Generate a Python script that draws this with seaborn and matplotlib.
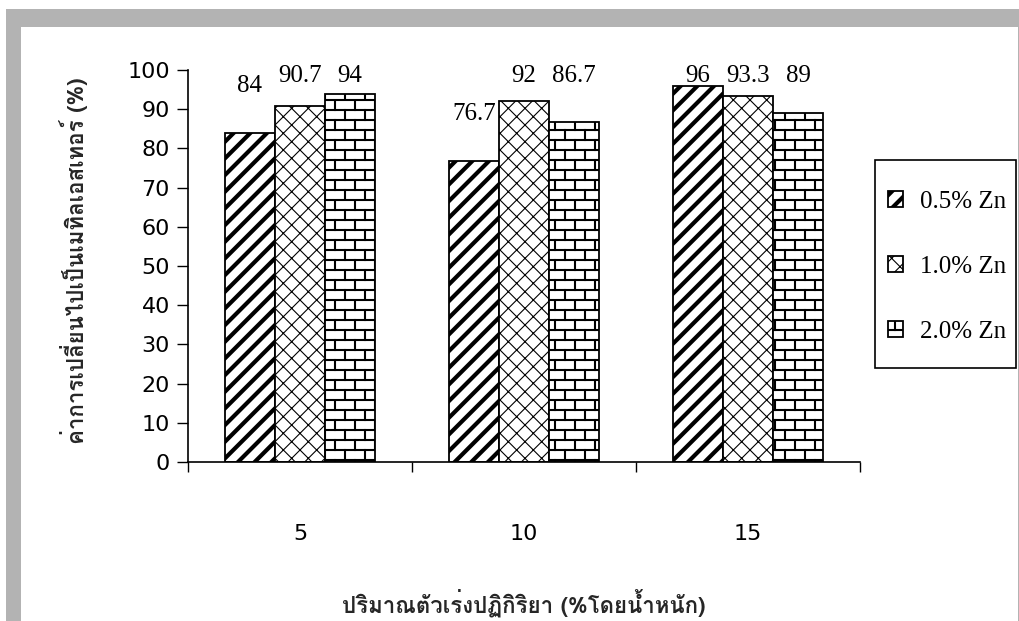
import numpy as np
import pandas as pd
import matplotlib
matplotlib.use("Agg")
import matplotlib.pyplot as plt
import matplotlib.hatch as mhatch
from matplotlib.path import Path
from matplotlib.patches import Rectangle
from matplotlib import font_manager, ft2font
import seaborn as sns

# ---- data -------------------------------------------------------------
catalyst_loading = ["5", "10", "15"]
zinc_levels = ["0.5% Zn", "1.0% Zn", "2.0% Zn"]
conv_zn_05 = [84, 76.7, 96]
conv_zn_10 = [90.7, 92, 93.3]
conv_zn_20 = [94, 86.7, 89]
y_ticks = [0, 10, 20, 30, 40, 50, 60, 70, 80, 90, 100]

x_title = "ปริมาณตัวเร่งปฏิกิริยา (%โดยน้ำหนัก)"
y_title = "ค่าการเปลี่ยนไปเป็นเมทิลเอสเทอร์ (%)"


# ---- a brick hatch (replaces the '*' star pattern) ----------------------
class BrickHatch(mhatch.HatchPatternBase):
    def __init__(self, hatch, density):
        n = hatch.count("*")
        self.rows = 10 * n
        self.cols = 5 * n
        self.num_lines = self.rows + 1
        self.num_vertices = 2 * (self.rows + 1) + 2 * self.rows * self.cols

    def set_vertices_and_codes(self, vertices, codes):
        if self.rows == 0:
            return
        h = 1.0 / self.rows
        w = 1.0 / self.cols
        segs = []
        # mortar courses, including both tile edges so they join seamlessly
        for i in range(self.rows + 1):
            y = i * h
            segs.append(((0.0, y), (1.0, y)))
        # staggered joints inside each course
        for i in range(self.rows):
            y = i * h
            off = 0.25 * w + (0.5 * w if i % 2 else 0.0)
            for j in range(self.cols):
                x = j * w + off
                segs.append(((x, y), (x, y + h)))
        vertices[:] = np.asarray(segs, dtype=float).reshape(-1, 2)
        codes[0::2] = Path.MOVETO
        codes[1::2] = Path.LINETO


mhatch._hatch_types = [t for t in mhatch._hatch_types if t is not mhatch.Stars] + [BrickHatch]


def find_thai_family():
    for f in font_manager.fontManager.ttflist:
        try:
            cmap = ft2font.FT2Font(f.fname).get_charmap()
        except Exception:
            continue
        if 0x0E01 in cmap and 0x0E40 in cmap and 0x0E48 in cmap:
            return f.name
    return "DejaVu Sans"


thai_family = find_thai_family()

# ---- figure -----------------------------------------------------------
sns.set_style("white")
plt.rcParams["font.family"] = ["DejaVu Sans"]

fig = plt.figure(figsize=(10.2, 6.21), dpi=100)
ax = fig.add_axes([188 / 1020, 1 - 462 / 621, 672 / 1020, 392 / 621])

df = pd.DataFrame({
    "catalyst": catalyst_loading * 3,
    "zinc": np.repeat(zinc_levels, len(catalyst_loading)),
    "conversion": conv_zn_05 + conv_zn_10 + conv_zn_20,
})

sns.barplot(data=df, x="catalyst", y="conversion", hue="zinc",
            order=catalyst_loading, hue_order=zinc_levels,
            palette=["white"] * 3, saturation=1, width=0.67, gap=0,
            edgecolor="black", linewidth=1.3, errorbar=None,
            legend=False, ax=ax)

hatches = ["//", "xx", "*"]
hatch_widths = [3.0, 0.8, 1.5]
for cont, hatch, hlw in zip(ax.containers, hatches, hatch_widths):
    for bar in cont:
        bar.set_hatch(hatch)
        bar.set_edgecolor("black")
        if hasattr(bar, "set_hatch_linewidth"):
            bar.set_hatch_linewidth(hlw)

# value labels above the bars
for cont, vals in zip(ax.containers, [conv_zn_05, conv_zn_10, conv_zn_20]):
    for bar, v in zip(cont, vals):
        xc = bar.get_x() + bar.get_width() / 2
        ax.text(xc, min(v + 12, 98.5), f"{v:g}", ha="center", va="center",
                fontsize=18, family="Liberation Serif", color="black",
                clip_on=False)

# axes
ax.set_ylim(0, 100)
ax.set_yticks(y_ticks)
ax.set_xlim(-0.5, 2.5)
ax.set_xticks([-0.5, 0.5, 1.5, 2.5])
ax.set_xticklabels([])
ax.set_xticks(range(len(catalyst_loading)), minor=True)
ax.set_xticklabels(catalyst_loading, minor=True)
ax.set_xlabel("")
ax.set_ylabel("")
for side in ["top", "right"]:
    ax.spines[side].set_visible(False)
for side in ["left", "bottom"]:
    ax.spines[side].set_color("black")
    ax.spines[side].set_linewidth(1.2)
ax.tick_params(axis="y", which="major", left=True, length=8, width=1.0,
               direction="out", pad=5, labelsize=16, colors="black")
ax.tick_params(axis="x", which="major", bottom=True, length=7, width=1.0,
               direction="out", colors="black")
ax.tick_params(axis="x", which="minor", bottom=True, length=0, pad=45,
               labelsize=16, labelcolor="black")

# legend (frame drawn separately as a plain box)
handles = [cont.patches[0] for cont in ax.containers]
leg = fig.legend(handles, zinc_levels, loc="upper left",
                 bbox_to_anchor=(888 / 1020, 1 - 191 / 621),
                 frameon=False,
                 prop={"family": "Liberation Serif", "size": 18},
                 handlelength=0.6, handleheight=0.6, handletextpad=0.7,
                 labelspacing=1.71, borderpad=0, borderaxespad=0)
for p, hlw in zip(leg.get_patches(), hatch_widths):
    if hasattr(p, "set_hatch_linewidth"):
        p.set_hatch_linewidth(hlw)
for t in leg.get_texts():
    t.set_color("black")
fig.patches.append(Rectangle((875 / 1020, 1 - 368 / 621), 141 / 1020, 208 / 621,
                             transform=fig.transFigure, facecolor="none",
                             edgecolor="black", linewidth=1.2, zorder=1))

# axis titles
fig.text(524 / 1020, 1 - 603 / 621, x_title, ha="center", va="center",
         fontsize=16, fontweight="bold", family=[thai_family, "DejaVu Sans"])
fig.text(74 / 1020, 1 - 261 / 621, y_title, ha="center", va="center",
         rotation=90, fontsize=16, fontweight="bold",
         family=[thai_family, "DejaVu Sans"])

# grey frame around the chart
frame = "#b3b3b3"
fig.patches.append(Rectangle((6 / 1020, 1 - 27 / 621), 1014 / 1020, 18 / 621,
                             transform=fig.transFigure, facecolor=frame,
                             edgecolor="none", zorder=0))
fig.patches.append(Rectangle((6 / 1020, 0), 15 / 1020, 1 - 9 / 621,
                             transform=fig.transFigure, facecolor=frame,
                             edgecolor="none", zorder=0))
fig.patches.append(Rectangle((1018 / 1020, 0), 2 / 1020, 1 - 27 / 621,
                             transform=fig.transFigure, facecolor=frame,
                             edgecolor="none", zorder=0))

fig.savefig("out.png", dpi=100, facecolor="white")
